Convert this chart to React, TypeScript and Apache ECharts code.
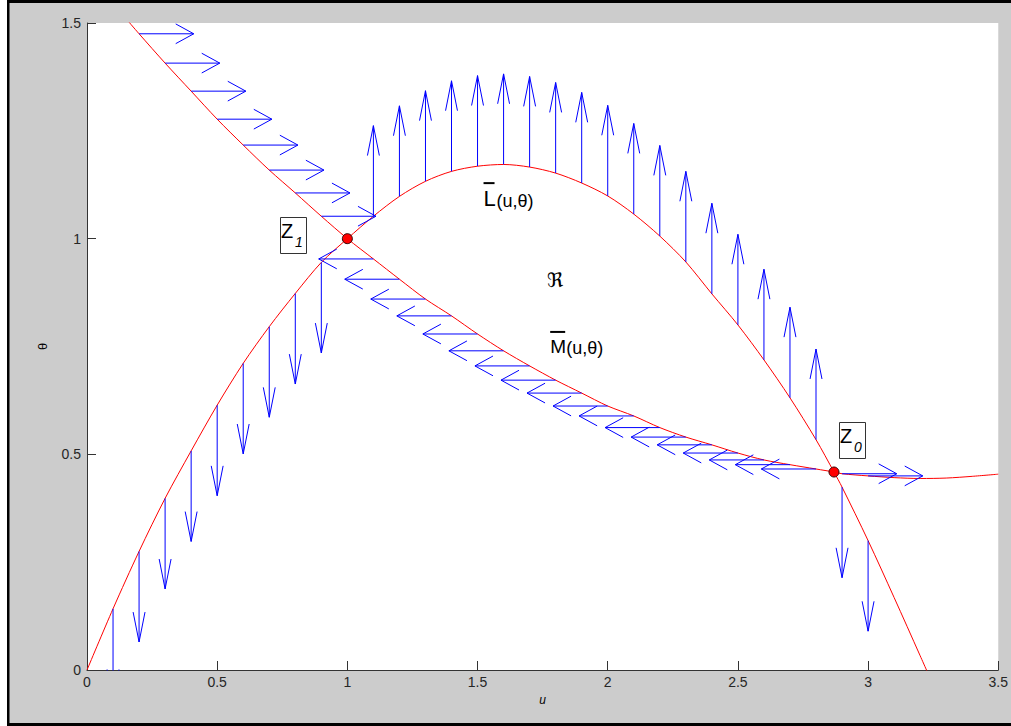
import React, { useEffect, useRef } from "react";
import * as echarts from "echarts";

// Curve L̄(u,θ) = 0
const lCurveU = [0, 0.1, 0.2, 0.3, 0.4, 0.5, 0.6, 0.7, 0.8, 0.9, 1.0, 1.1, 1.2, 1.3, 1.4, 1.5, 1.6, 1.7, 1.8, 1.9, 2.0, 2.1, 2.2, 2.3, 2.4, 2.5, 2.6, 2.7, 2.8, 2.869, 2.9, 3.0, 3.1, 3.2, 3.25];
const lCurveTheta = [0, 0.142, 0.275, 0.398, 0.508, 0.614, 0.711, 0.796, 0.873, 0.945, 1.0, 1.052, 1.098, 1.133, 1.156, 1.168, 1.172, 1.166, 1.152, 1.129, 1.099, 1.057, 1.006, 0.946, 0.872, 0.8, 0.719, 0.631, 0.534, 0.459, 0.424, 0.3, 0.168, 0.033, -0.035];

// Curve M̄(u,θ) = 0
const mCurveU = [0.15, 0.2, 0.3, 0.4, 0.5, 0.6, 0.7, 0.8, 0.9, 1.0, 1.1, 1.2, 1.3, 1.4, 1.5, 1.6, 1.7, 1.8, 1.9, 2.0, 2.1, 2.2, 2.3, 2.4, 2.5, 2.6, 2.7, 2.8, 2.869, 2.9, 3.0, 3.1, 3.2, 3.3, 3.4, 3.5];
const mCurveTheta = [1.51, 1.475, 1.407, 1.342, 1.277, 1.217, 1.159, 1.106, 1.052, 1.0, 0.953, 0.906, 0.86, 0.821, 0.779, 0.74, 0.705, 0.672, 0.642, 0.612, 0.589, 0.562, 0.54, 0.522, 0.503, 0.487, 0.476, 0.466, 0.459, 0.455, 0.45, 0.446, 0.444, 0.445, 0.449, 0.454];

// Vertical arrows on L̄ (direction of dθ)
const lArrowU = [0.1, 0.2, 0.3, 0.4, 0.5, 0.6, 0.7, 0.8, 0.9, 1.1, 1.2, 1.3, 1.4, 1.5, 1.6, 1.7, 1.8, 1.9, 2.0, 2.1, 2.2, 2.3, 2.4, 2.5, 2.6, 2.7, 2.8, 2.9, 3.0];
const lArrowDir = [-1, -1, -1, -1, -1, -1, -1, -1, -1, 1, 1, 1, 1, 1, 1, 1, 1, 1, 1, 1, 1, 1, 1, 1, 1, 1, 1, -1, -1];

// Horizontal arrows on M̄ (direction of du)
const mArrowU = [0.2, 0.3, 0.4, 0.5, 0.6, 0.7, 0.8, 0.9, 1.1, 1.2, 1.3, 1.4, 1.5, 1.6, 1.7, 1.8, 1.9, 2.0, 2.1, 2.2, 2.3, 2.4, 2.5, 2.6, 2.7, 2.8, 2.9, 3.0];
const mArrowDir = [1, 1, 1, 1, 1, 1, 1, 1, -1, -1, -1, -1, -1, -1, -1, -1, -1, -1, -1, -1, -1, -1, -1, -1, -1, -1, 1, 1];

const arrowLength = 0.21;

// Equilibria
const eqU = [1.0, 2.869];
const eqTheta = [1.0, 0.459];
const eqSub = ["1", "0"];

// Text annotations (data coordinates)
const labelLPos = [1.523, 1.094];
const labelRPos = [1.798, 0.905];
const labelMPos = [1.779, 0.749];

const FONT = "Liberation Sans, Arial, Helvetica, sans-serif";

function lookup(us: number[], ts: number[], u: number): number {
  for (let i = 0; i < us.length; i++) if (Math.abs(us[i] - u) < 1e-6) return ts[i];
  for (let i = 0; i < us.length - 1; i++) {
    if (u >= us[i] && u <= us[i + 1]) {
      const f = (u - us[i]) / (us[i + 1] - us[i]);
      return ts[i] + f * (ts[i + 1] - ts[i]);
    }
  }
  return NaN;
}

function arrow(x0: number, y0: number, du: number, dv: number): any[] {
  const a = 0.33;
  const b = 0.33;
  const x1 = x0 + du;
  const y1 = y0 + dv;
  return [
    [x0, y0],
    [x1, y1],
    ["-", "-"],
    [x1 - a * (du + b * dv), y1 - a * (dv - b * du)],
    [x1, y1],
    [x1 - a * (du - b * dv), y1 - a * (dv + b * du)],
    ["-", "-"],
  ];
}

export default function App() {
  const ref = useRef<HTMLDivElement>(null);
  useEffect(() => {
    if (!ref.current) return;
    document.body.style.margin = "0";
    document.body.style.overflow = "hidden";
    document.body.style.background = "#cccccc";
    const chart = echarts.init(ref.current, undefined, { renderer: "svg" });

    const arrowData: any[] = [];
    lArrowU.forEach((u, i) => {
      const t = lookup(lCurveU, lCurveTheta, u);
      arrowData.push(...arrow(u, t, 0, lArrowDir[i] * arrowLength));
    });
    mArrowU.forEach((u, i) => {
      const t = lookup(mCurveU, mCurveTheta, u);
      arrowData.push(...arrow(u, t, mArrowDir[i] * arrowLength, 0));
    });

    const axisColor = "#333333";
    chart.setOption({
      animation: false,
      backgroundColor: "#cccccc",
      grid: {
        left: 87,
        right: 9,
        top: 23,
        bottom: 56,
        show: true,
        backgroundColor: "#ffffff",
        borderWidth: 0,
      },
      xAxis: {
        type: "value",
        min: 0,
        max: 3.5,
        interval: 0.5,
        name: "u",
        nameLocation: "middle",
        nameGap: 24,
        nameTextStyle: { fontFamily: FONT, fontSize: 12, fontStyle: "italic", color: "#000" },
        axisLine: { onZero: false, lineStyle: { color: axisColor, width: 1 } },
        axisTick: { inside: true, length: 9, lineStyle: { color: axisColor } },
        axisLabel: { margin: 5, fontFamily: FONT, fontSize: 14, color: "#262626" },
        splitLine: { show: false },
      },
      yAxis: {
        type: "value",
        min: 0,
        max: 1.5,
        interval: 0.5,
        name: "θ",
        nameLocation: "middle",
        nameGap: 38,
        nameRotate: 90,
        nameTextStyle: { fontFamily: FONT, fontSize: 13, color: "#000" },
        axisLine: { onZero: false, lineStyle: { color: axisColor, width: 1 } },
        axisTick: { inside: true, length: 9, lineStyle: { color: axisColor } },
        axisLabel: { margin: 6, fontFamily: FONT, fontSize: 14, color: "#262626" },
        splitLine: { show: false },
      },
      series: [
        {
          type: "line",
          data: lCurveU.map((u, i) => [u, lCurveTheta[i]]),
          smooth: 0.3,
          symbol: "none",
          lineStyle: { color: "#ff0000", width: 1 },
          z: 2,
          silent: true,
        },
        {
          type: "line",
          data: mCurveU.map((u, i) => [u, mCurveTheta[i]]),
          smooth: 0.3,
          symbol: "none",
          lineStyle: { color: "#ff0000", width: 1 },
          z: 2,
          silent: true,
        },
        {
          type: "line",
          data: arrowData,
          symbol: "none",
          connectNulls: false,
          lineStyle: { color: "#0000ff", width: 1 },
          z: 3,
          silent: true,
        },
        {
          type: "scatter",
          data: eqU.map((u, i) => [u, eqTheta[i]]),
          symbolSize: 10,
          itemStyle: { color: "#ff0000", borderColor: "#300000", borderWidth: 1, opacity: 1 },
          z: 5,
          silent: true,
        },
      ],
    });

    const toPx = (u: number, t: number) => chart.convertToPixel({ gridIndex: 0 }, [u, t]) as number[];
    const txt = (
      x: number,
      y: number,
      text: string,
      fontSize: number,
      fontStyle = "normal",
      align = "left",
      fontFamily = FONT
    ) => ({
      type: "text",
      x,
      y,
      z: 100,
      style: {
        text,
        font: `${fontStyle} normal ${fontSize}px ${fontFamily}`,
        fontSize,
        fontFamily,
        fontStyle,
        fill: "#000",
        align,
        textAlign: align,
        verticalAlign: "middle",
        textVerticalAlign: "middle",
      },
    });

    const graphics: any[] = [
      { type: "rect", shape: { x: 0, y: 0, width: 7, height: 726 }, style: { fill: "#ffffff" }, z: 100 },
      { type: "rect", shape: { x: 7, y: 0, width: 2.5, height: 726 }, style: { fill: "#000000" }, z: 100 },
      { type: "rect", shape: { x: 7, y: 0, width: 1004, height: 3 }, style: { fill: "#000000" }, z: 100 },
      { type: "rect", shape: { x: 7, y: 723, width: 1004, height: 3 }, style: { fill: "#000000" }, z: 100 },
    ];

    const boxOffsets = [
      [-67, -22],
      [5, -50],
    ];
    eqU.forEach((u, i) => {
      const [px, py] = toPx(u, eqTheta[i]);
      const bx = Math.round(px + boxOffsets[i][0]);
      const by = Math.round(py + boxOffsets[i][1]);
      graphics.push({
        type: "rect",
        z: 100,
        shape: { x: bx + 0.5, y: by + 0.5, width: 26, height: 36 },
        style: { fill: "#ffffff", stroke: "#333333", lineWidth: 1 },
      });
      graphics.push(txt(bx + 1, by + 13.5, "Z", 20));
      graphics.push(txt(bx + 15, by + 25, eqSub[i], 14, "italic"));
    });

    const [lx, ly] = toPx(labelLPos[0], labelLPos[1]);
    graphics.push(txt(lx, ly, "L", 22));
    graphics.push(txt(lx + 13, ly + 3, "(u,θ)", 18));
    graphics.push({
      type: "line",
      z: 100,
      shape: { x1: lx, y1: ly - 15, x2: lx + 11, y2: ly - 15 },
      style: { stroke: "#000", lineWidth: 2 },
    });

    const [rx, ry] = toPx(labelRPos[0], labelRPos[1]);
    graphics.push(txt(rx, ry, "ℜ", 20, "normal", "center", "DejaVu Serif, DejaVu Sans, serif"));

    const [mx, my] = toPx(labelMPos[0], labelMPos[1]);
    graphics.push(txt(mx, my, "M", 19));
    graphics.push(txt(mx + 16, my + 1, "(u,θ)", 18));
    graphics.push({
      type: "line",
      z: 100,
      shape: { x1: mx, y1: my - 15, x2: mx + 15, y2: my - 15 },
      style: { stroke: "#000", lineWidth: 2 },
    });

    chart.setOption({ graphic: graphics });

    return () => chart.dispose();
  }, []);

  return (
    <div
      ref={ref}
      style={{ position: "absolute", left: 0, top: 0, width: 1011, height: 726 }}
    />
  );
}
